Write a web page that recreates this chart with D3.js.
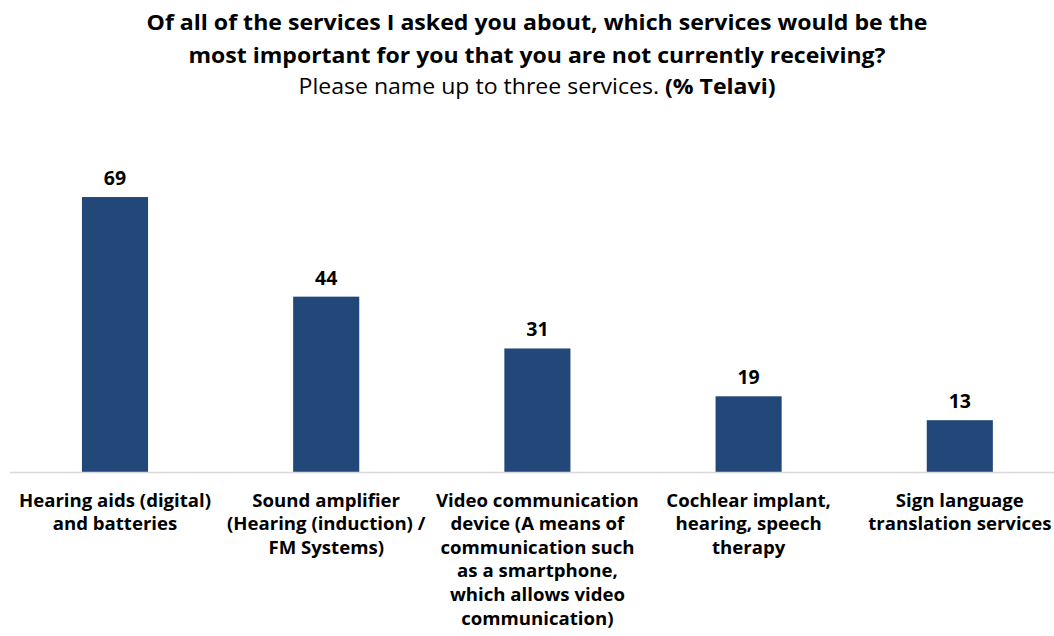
<!DOCTYPE html>
<html>
<head>
<meta charset="utf-8">
<script src="https://cdn.jsdelivr.net/npm/d3@7"></script>
<style>
  html, body { margin: 0; padding: 0; background: #ffffff; }
  svg { display: block; font-family: "Open Sans", "Noto Sans", sans-serif; }
</style>
</head>
<body>
<svg id="chart" width="1054" height="636"></svg>
<script>
// Services named as most important but not currently received
const categories = [
  "Hearing aids (digital) and batteries",
  "Sound amplifier (Hearing (induction) / FM Systems)",
  "Video communication device (A means of communication such as a smartphone, which allows video communication)",
  "Cochlear implant, hearing, speech therapy",
  "Sign language translation services"
];
// Wrapped tick label lines for each category
const categoryLines = [
  ["Hearing aids (digital)", "and batteries"],
  ["Sound amplifier", "(Hearing (induction) /", "FM Systems)"],
  ["Video communication", "device (A means of", "communication such", "as a smartphone,", "which allows video", "communication)"],
  ["Cochlear implant,", "hearing, speech", "therapy"],
  ["Sign language", "translation services"]
];
const values = [69, 44, 31, 19, 13];

const titleLines = [
  "Of all of the services I asked you about, which services would be the",
  "most important for you that you are not currently receiving?"
];
const subtitleText = "Please name up to three services. ";
const subtitleBold = "(% Telavi)";

const FONT = '"Open Sans", "Noto Sans", sans-serif';
const svg = d3.select("#chart");
const W = 1054;

const baseY = 472;
const pad = 0.687;
const x = d3.scaleBand()
  .domain(categories)
  .range([9.4, 1065.4])
  .paddingInner(pad)
  .paddingOuter(pad / 2);

const y = d3.scaleLinear()
  .domain([0, 80])
  .range([baseY, baseY - 80 * 3.985]);

// Title
const title = svg.append("g").attr("text-anchor", "middle");
titleLines.forEach((t, i) => {
  title.append("text")
    .attr("x", W / 2 + 10)
    .attr("y", 30 + i * 33)
    .attr("font-size", 21)
    .attr("font-weight", 700)
    .attr("textLength", i === 0 ? 781 : 697)
    .attr("lengthAdjust", "spacingAndGlyphs")
    .attr("fill", "#000")
    .text(t);
});
const sub = title.append("text")
  .attr("x", W / 2 + 10)
  .attr("y", 94)
  .attr("font-size", 21)
  .attr("fill", "#000")
  .attr("textLength", 477)
  .attr("lengthAdjust", "spacingAndGlyphs");
sub.append("tspan").text(subtitleText);
sub.append("tspan").attr("font-weight", 700).text(subtitleBold);

// Bars
svg.append("g").selectAll("rect")
  .data(values)
  .join("rect")
  .attr("x", (d, i) => x(categories[i]))
  .attr("width", x.bandwidth())
  .attr("y", d => y(d))
  .attr("height", d => y(0) - y(d))
  .attr("fill", "#214879");

// Value labels
svg.append("g").selectAll("text")
  .data(values)
  .join("text")
  .attr("x", (d, i) => x(categories[i]) + x.bandwidth() / 2)
  .attr("y", d => y(d) - 12)
  .attr("text-anchor", "middle")
  .attr("font-size", 19.5)
  .attr("font-weight", 700)
  .attr("fill", "#000")
  .text(d => d);

// Category axis
const axis = svg.append("g")
  .attr("transform", `translate(0,${baseY})`)
  .call(d3.axisBottom(x).tickSize(0).tickFormat(""))
  .attr("font-family", FONT);
axis.select(".domain").remove();
axis.append("line")
  .attr("x1", 10).attr("x2", 1054)
  .attr("y1", 0.5).attr("y2", 0.5)
  .attr("stroke", "#d9d9d9")
  .attr("stroke-width", 1.5);

axis.selectAll(".tick").each(function(d, i) {
  const t = d3.select(this).append("text")
    .attr("text-anchor", "middle")
    .attr("font-family", FONT)
    .attr("font-size", 18.6)
    .attr("font-weight", 700)
    .attr("fill", "#000");
  categoryLines[i].forEach((line, j) => {
    t.append("tspan")
      .attr("x", 0)
      .attr("y", 34.5 + j * 23.6)
      .text(line);
  });
});
</script>
</body>
</html>
